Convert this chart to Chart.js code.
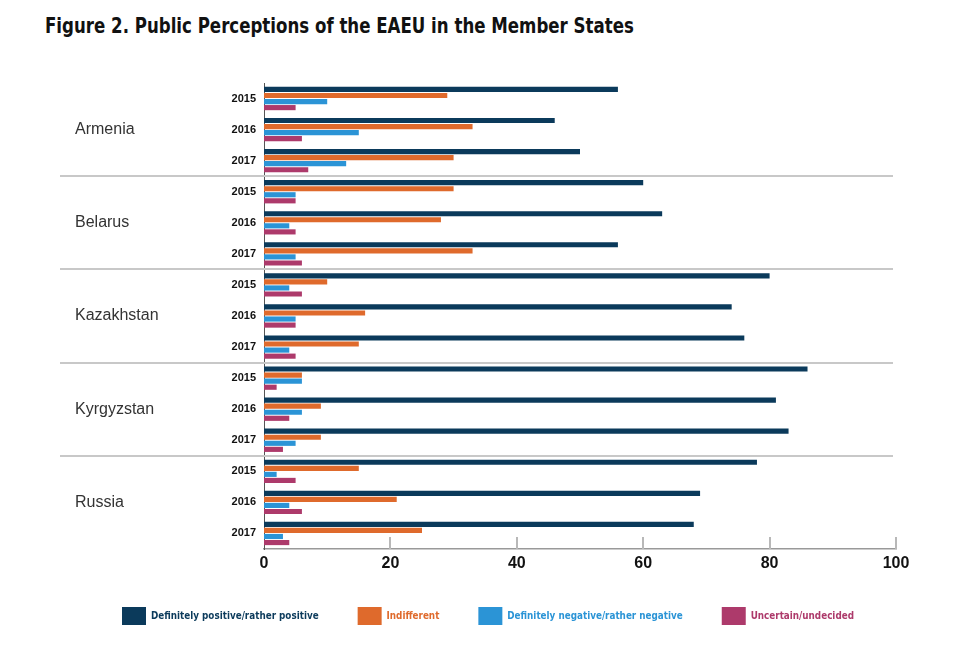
<!DOCTYPE html>
<html lang="en">
<head>
<meta charset="utf-8">
<title>Public Perceptions of the EAEU</title>
<script src="https://cdn.jsdelivr.net/npm/chart.js@4.4.1/dist/chart.umd.min.js"></script>
<style>
  body { margin: 0; background: #fff; }
  .wrap { position: relative; width: 964px; height: 649px; }
  .wrap h1 {
    position: absolute; left: 45px; top: 13px; margin: 0;
    font: bold 22px 'DejaVu Sans Condensed', 'Liberation Sans', sans-serif;
    color: #111; white-space: nowrap;
    transform: scaleX(0.84); transform-origin: 0 0;
  }
  canvas { position: absolute; left: 0; top: 0; }
</style>
</head>
<body>
<div class="wrap">
  <h1>Figure 2. Public Perceptions of the EAEU in the Member States</h1>
  <canvas id="chart" width="964" height="649"></canvas>
</div>
<script>
// data, % of respondents
const countries = ['Armenia', 'Belarus', 'Kazakhstan', 'Kyrgyzstan', 'Russia'];
const years = ['2015', '2016', '2017'];
const positive    = [56, 46, 50,  60, 63, 56,  80, 74, 76,  86, 81, 83,  78, 69, 68];
const indifferent = [29, 33, 30,  30, 28, 33,  10, 16, 15,   6,  9,  9,  15, 21, 25];
const negative    = [10, 15, 13,   5,  4,  5,   4,  5,  4,   6,  6,  5,   2,  4,  3];
const uncertain   = [ 5,  6,  7,   5,  5,  6,   6,  5,  5,   2,  4,  3,   5,  6,  4];
const xTicks = [0, 20, 40, 60, 80, 100];

const labels = [];
countries.forEach(() => years.forEach(y => labels.push(y)));

// country names, separators and the short upward ticks on the x axis
const countryPlugin = {
  id: 'countries',
  afterDraw(chart) {
    const { ctx, chartArea, scales: { x, y } } = chart;
    ctx.save();
    ctx.strokeStyle = '#c8c8c8';
    ctx.lineWidth = 2;
    for (let i = 1; i < countries.length; i++) {
      const k = i * years.length;
      const yy = Math.round((y.getPixelForValue(k - 1) + y.getPixelForValue(k)) / 2);
      ctx.beginPath();
      ctx.moveTo(60, yy);
      ctx.lineTo(chartArea.right - 3, yy);
      ctx.stroke();
    }
    ctx.fillStyle = '#333';
    ctx.font = '16px "Liberation Sans", Arial, sans-serif';
    ctx.textBaseline = 'middle';
    countries.forEach((c, i) => {
      ctx.fillText(c, 75, y.getPixelForValue(i * years.length + 1));
    });
    ctx.strokeStyle = '#b8b8b8';
    ctx.lineWidth = 2;
    x.ticks.forEach(t => {
      if (t.value === 0) return;
      const px = Math.round(x.getPixelForValue(t.value));
      ctx.beginPath();
      ctx.moveTo(px, chartArea.bottom);
      ctx.lineTo(px, chartArea.bottom - 12);
      ctx.stroke();
    });
    ctx.restore();
  }
};

const ctx = document.getElementById('chart').getContext('2d');
new Chart(ctx, {
  type: 'bar',
  data: {
    labels: labels,
    datasets: [
      { label: 'Definitely positive/rather positive', data: positive, backgroundColor: '#0b3a5b' },
      { label: 'Indifferent', data: indifferent, backgroundColor: '#df6a2c' },
      { label: 'Definitely negative/rather negative', data: negative, backgroundColor: '#2b94d6' },
      { label: 'Uncertain/undecided', data: uncertain, backgroundColor: '#ad3a6b' }
    ]
  },
  options: {
    indexAxis: 'y',
    responsive: false,
    animation: false,
    layout: { padding: { left: 80, right: 68, top: 83, bottom: 14 } },
    datasets: { bar: { categoryPercentage: 0.78, barPercentage: 0.85, borderWidth: 0 } },
    scales: {
      x: {
        min: 0, max: 100,
        afterBuildTicks: s => { s.ticks = xTicks.map(v => ({ value: v })); },
        grid: { display: false, drawTicks: false },
        border: { color: '#999', width: 1.5 },
        ticks: {
          padding: 5, color: '#111',
          font: { family: '"Liberation Sans", Arial, sans-serif', size: 16, weight: 'bold' }
        },
        afterFit: s => { s.height = 19; }
      },
      y: {
        grid: { display: false, drawTicks: false },
        border: { color: '#555', width: 1 },
        ticks: {
          autoSkip: false, padding: 8, color: '#111',
          font: { family: '"Liberation Sans", Arial, sans-serif', size: 11, weight: 'bold' }
        },
        afterFit: s => { s.width = 184; }
      }
    },
    plugins: {
      tooltip: { enabled: false },
      legend: {
        position: 'bottom',
        labels: {
          boxWidth: 24, boxHeight: 18, padding: 39,
          font: { family: '"DejaVu Sans Condensed", "Liberation Sans", sans-serif', size: 9.8, weight: 'bold' },
          generateLabels: chart => Chart.defaults.plugins.legend.labels.generateLabels(chart)
            .map(item => Object.assign(item, { fontColor: item.fillStyle, lineWidth: 0 }))
        }
      }
    }
  },
  plugins: [countryPlugin]
});
</script>
</body>
</html>
